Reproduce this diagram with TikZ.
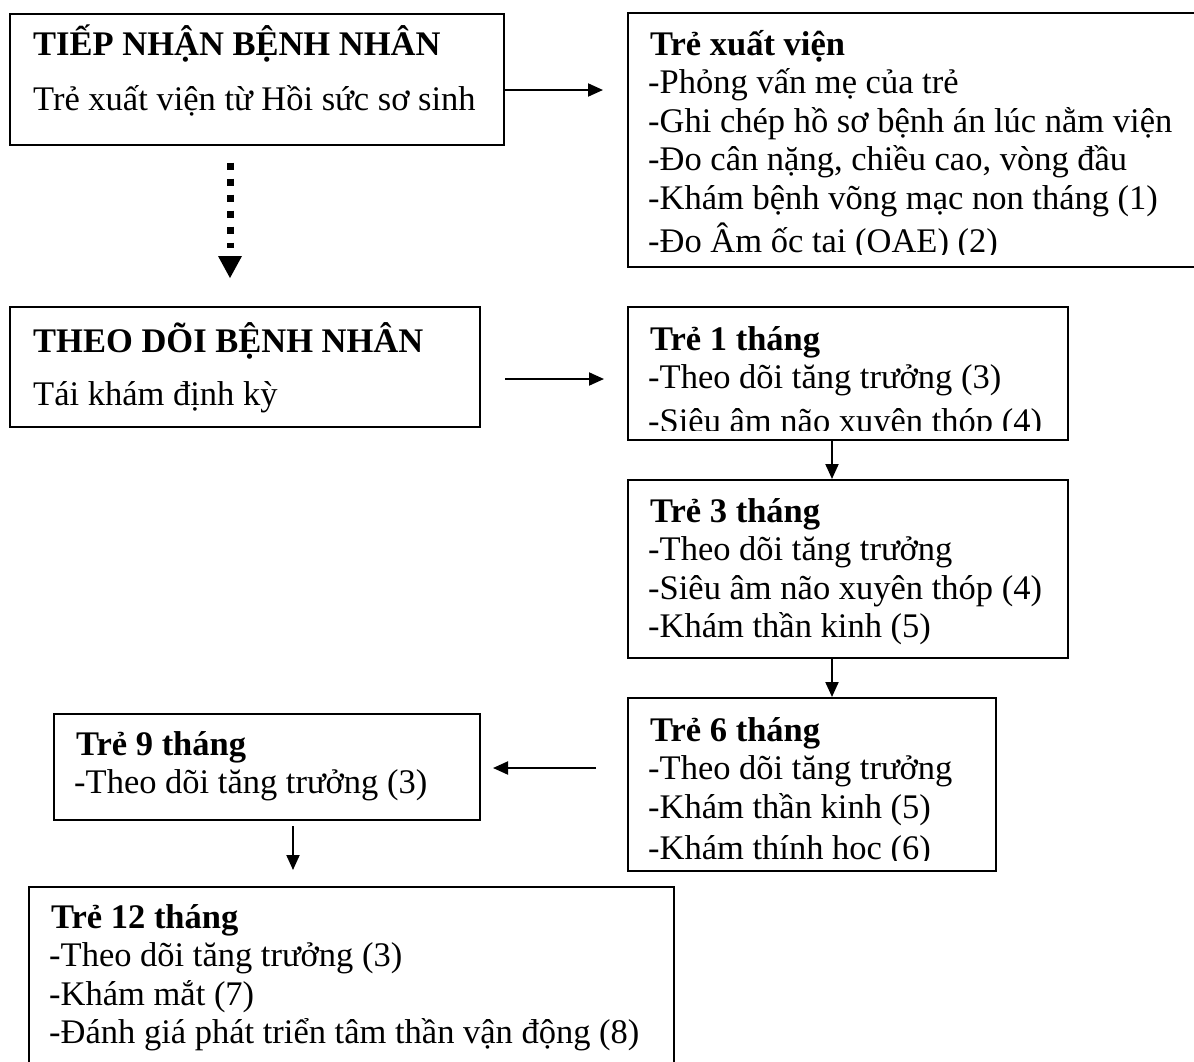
\documentclass[tikz,border=0pt]{standalone}
\usepackage{fontspec}
\setmainfont{Liberation Serif}
\usetikzlibrary{arrows.meta}
\begin{document}
\begin{tikzpicture}[x=1pt,y=-1pt,
  box/.style={draw, line width=2pt, inner sep=0pt, anchor=north west},
  txt/.style={anchor=base west, inner sep=0pt, font=\fontsize{34.5}{38.5}\selectfont},
  btxt/.style={anchor=base west, inner sep=0pt, font=\fontsize{34.5}{38.5}\selectfont\bfseries},
  arr/.style={line width=2pt, -{Triangle[length=15pt,width=13pt]}}]
\clip (0,0) rectangle (1194,1061);
\fill[white] (0,0) rectangle (1194,1061);

% boxes
\node[box, minimum width=494pt, minimum height=131pt] (b1) at (9,13) {};
\node[box, minimum width=600pt, minimum height=254pt] (b2) at (627,12) {};
\node[box, minimum width=470pt, minimum height=120pt] (b3) at (9,306) {};
\node[box, minimum width=440pt, minimum height=133pt] (b4) at (627,306) {};
\node[box, minimum width=440pt, minimum height=178pt] (b5) at (627,479) {};
\node[box, minimum width=368pt, minimum height=173pt] (b6) at (627,697) {};
\node[box, minimum width=426pt, minimum height=106pt] (b7) at (53,713) {};
\node[box, minimum width=645pt, minimum height=200pt] (b8) at (28,886) {};

% box 1
\node[btxt] (t11) at (33,55) {TIẾP NHẬN BỆNH NHÂN};
\node[txt] (t12) at (33,110) {Trẻ xuất viện từ Hồi sức sơ sinh};

% box 2
\begin{scope}
\clip (627,12) rectangle (1194,254);
\node[btxt] (t21) at (650,55) {Trẻ xuất viện};
\node[txt] (t22) at (648,93.5) {-Phỏng vấn mẹ của trẻ};
\node[txt] (t23) at (648,132) {-Ghi chép hồ sơ bệnh án lúc nằm viện};
\node[txt] (t24) at (648,170.5) {-Đo cân nặng, chiều cao, vòng đầu};
\node[txt] (t25) at (648,209) {-Khám bệnh võng mạc non tháng (1)};
\node[txt] (t26) at (648,252) {-Đo Âm ốc tai (OAE) (2)};
\end{scope}

% box 3
\node[btxt] (t31) at (33,352) {THEO DÕI BỆNH NHÂN};
\node[txt] (t32) at (33,405) {Tái khám định kỳ};

% box 4
\begin{scope}
\clip (627,306) rectangle (1067,430);
\node[btxt] (t41) at (650,350) {Trẻ 1 tháng};
\node[txt] (t42) at (648,388.5) {-Theo dõi tăng trưởng (3)};
\node[txt] (t43) at (648,432) {-Siêu âm não xuyên thóp (4)};
\end{scope}

% box 5
\node[btxt] (t51) at (650,522) {Trẻ 3 tháng};
\node[txt] (t52) at (648,560.5) {-Theo dõi tăng trưởng};
\node[txt] (t53) at (648,599) {-Siêu âm não xuyên thóp (4)};
\node[txt] (t54) at (648,637.5) {-Khám thần kinh (5)};

% box 6
\begin{scope}
\clip (627,697) rectangle (995,860);
\node[btxt] (t61) at (650,741) {Trẻ 6 tháng};
\node[txt] (t62) at (648,779.5) {-Theo dõi tăng trưởng};
\node[txt] (t63) at (648,818) {-Khám thần kinh (5)};
\node[txt] (t64) at (648,859) {-Khám thính học (6)};
\end{scope}

% box 7
\node[btxt] (t71) at (76,755) {Trẻ 9 tháng};
\node[txt] (t72) at (74,793) {-Theo dõi tăng trưởng (3)};

% box 8
\node[btxt] (t81) at (51,928) {Trẻ 12 tháng};
\node[txt] (t82) at (49,966.5) {-Theo dõi tăng trưởng (3)};
\node[txt] (t83) at (49,1005) {-Khám mắt (7)};
\node[txt] (t84) at (49,1043.5) {-Đánh giá phát triển tâm thần vận động (8)};

% connectors
\draw[arr, shorten >=24pt] (b1.east |- 0,90) -- (b2.west |- 0,90);
\draw[arr, shorten <=24pt, shorten >=23pt] (b3.east |- 0,379) -- (b4.west |- 0,379);
\draw[arr] (b4.south -| 832,0) -- (b5.north -| 832,0);
\draw[arr] (b5.south -| 832,0) -- (b6.north -| 832,0);
\draw[arr, shorten <=31pt, shorten >=12pt] (b6.west |- 0,768) -- (b7.east |- 0,768);
\draw[arr, shorten <=5pt, shorten >=16pt] (b7.south -| 293,0) -- (b8.north -| 293,0);

% dotted connector
\draw[line width=7pt, dash pattern=on 7pt off 9pt, shorten <=16.5pt, shorten >=58.5pt]
  (b1.south -| 230,0) -- (b3.north -| 230,0);
\fill (b3.north -| 230,0) ++(-12,-50) -- ++(24,0) -- ++(-12,22) -- cycle;
\end{tikzpicture}
\end{document}
